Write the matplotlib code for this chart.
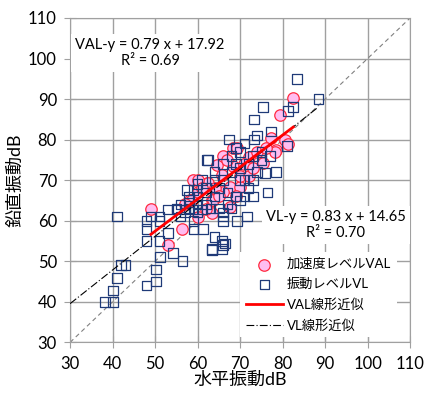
import matplotlib
matplotlib.use("Agg")
import matplotlib.pyplot as plt
import numpy as np

plt.rcParams['font.family'] = ['Lato', 'Noto Sans CJK JP', 'DejaVu Sans']

# 振動レベル VL (squares)
vl_x = [38.2, 40.1, 40.1, 41.1, 42.0, 43.0, 41.0, 48.0, 50.2, 50.2, 51.2, 48.0, 48.0, 48.0,
        49.0, 51.0, 51.0, 51.0, 53.0, 54.2, 56.4, 53.0, 55.0, 57.0, 59.0, 61.0, 57.0, 59.0,
        59.0, 61.3, 57.5, 59.0, 58.0, 60.0, 61.0, 62.5, 63.4, 64.0, 66.0, 66.0, 66.0, 66.0,
        69.3, 71.6, 63.4, 65.8, 65.8, 66.5, 83.4, 88.4, 82.5, 81.3, 75.4, 73.3, 77.3, 73.3,
        81.0, 62.2, 67.4, 75.9, 78.5, 76.4, 74.0, 70.0, 68.0, 69.0, 66.0, 64.0, 68.0, 70.0,
        72.0, 71.0, 73.0, 65.0, 67.0, 69.0, 71.0, 60.0, 62.0, 64.0, 55.0, 56.0, 58.0, 60.0,
        63.0, 65.0, 67.0, 68.0, 70.0, 72.0, 74.0, 75.0, 77.0, 70.0, 66.0, 64.0, 62.0, 73.0,
        71.0, 69.0, 73.0, 75.0, 60.0, 62.0, 56.0, 58.0]
vl_y = [40.0, 40.0, 42.8, 45.8, 49.0, 49.0, 61.0, 44.0, 45.0, 48.0, 51.0, 55.0, 58.0, 60.0,
        61.0, 61.0, 60.0, 55.0, 57.0, 52.0, 50.0, 62.8, 62.8, 62.8, 62.8, 62.8, 62.0, 60.0,
        58.0, 58.0, 67.5, 67.5, 66.0, 69.0, 70.0, 75.0, 53.0, 56.0, 54.0, 60.0, 62.0, 61.0,
        60.0, 61.0, 52.7, 55.0, 53.0, 54.4, 95.0, 90.0, 88.0, 87.0, 88.0, 85.0, 82.0, 80.0,
        78.4, 75.0, 80.0, 71.7, 72.0, 67.0, 81.0, 77.0, 76.0, 78.0, 74.0, 72.0, 72.0, 73.0,
        74.0, 70.0, 70.0, 68.0, 67.0, 66.0, 66.0, 64.0, 64.0, 66.0, 63.0, 64.0, 63.0, 62.0,
        63.0, 63.0, 64.0, 63.0, 65.0, 68.0, 72.0, 75.0, 76.0, 70.0, 70.0, 70.0, 68.0, 76.0,
        79.0, 74.0, 66.0, 77.0, 66.0, 67.0, 61.0, 64.5]

# 加速度レベル VAL (circles)
val_x = [49.0, 56.4, 53.0, 59.0, 58.2, 63.4, 63.4, 64.6, 62.2, 82.5, 79.4, 77.3, 80.6, 78.5,
         68.4, 69.3, 72.1, 75.4, 68.4, 65.8, 62.5, 67.6, 70.0, 63.6, 67.6, 81.3, 78.2, 58.7,
         60.0, 66.0, 70.0, 72.0, 74.0, 76.0, 71.0, 64.0, 60.0, 66.0, 67.0, 69.0, 62.0, 60.0,
         65.0, 73.0, 61.0, 57.0]
val_y = [63.0, 58.0, 54.0, 70.0, 65.0, 65.0, 62.0, 73.7, 69.3, 90.2, 86.0, 80.4, 80.0, 77.4,
         78.0, 77.9, 75.7, 74.2, 73.5, 71.2, 69.3, 68.3, 68.3, 65.0, 63.3, 79.0, 77.0, 65.0,
         67.0, 67.0, 71.0, 71.0, 77.0, 78.0, 74.0, 68.0, 70.0, 76.0, 75.0, 66.0, 63.0, 61.0,
         66.0, 73.0, 68.0, 64.0]

# regression coefficients (from chart labels)
val_fit = (0.79, 17.92)
val_r2 = 0.69
vl_fit = (0.83, 14.65)
vl_r2 = 0.70

ticks = [30, 40, 50, 60, 70, 80, 90, 100, 110]

fig = plt.figure(figsize=(4.25, 3.99), dpi=100)
ax = fig.add_axes([0.165, 0.142, 0.800, 0.813])

ax.set_xlim(30, 110)
ax.set_ylim(30, 110)
ax.set_xticks(ticks)
ax.set_yticks(ticks)
ax.grid(True, color='#a0a0a0', linewidth=1.0, zorder=0)
ax.set_axisbelow(True)
for s in ax.spines.values():
    s.set_color('#a0a0a0')
ax.tick_params(direction='inout', length=9, color='#a0a0a0', labelsize=12, pad=5)

# y = x reference line
ax.plot([30, 110], [30, 110], color='#808080', linestyle=(0, (4, 3)), linewidth=0.8, zorder=2)

ax.scatter(val_x, val_y, s=68, marker='o', facecolor='#ffbdf0', edgecolor='#ff2a40',
           linewidth=0.9, zorder=3, label='加速度レベルVAL')
ax.scatter(vl_x, vl_y, s=48, marker='s', facecolor='none', edgecolor='#1f3a78',
           linewidth=0.9, zorder=4, label='振動レベルVL')

xv = np.array([min(val_x), max(val_x)])
ax.plot(xv, val_fit[0] * xv + val_fit[1], color='#ff0000', linewidth=2.0, zorder=6,
        label='VAL線形近似')
xl = np.array([30, max(vl_x)])
ax.plot(xl, vl_fit[0] * xl + vl_fit[1], color='black', linewidth=0.8,
        linestyle=(0, (7, 2, 1, 2)), zorder=5, label='VL線形近似')

bbox = dict(facecolor='white', edgecolor='none', pad=3)
ax.text(48.8, 101.4, f'VAL-y = {val_fit[0]:.2f} x + {val_fit[1]:.2f}\nR² = {val_r2:.2f}',
        ha='center', va='center', fontsize=10.5, linespacing=1.15, bbox=bbox, zorder=7)
ax.text(92.5, 59.0, f'VL-y = {vl_fit[0]:.2f} x + {vl_fit[1]:.2f}\nR² = {vl_r2:.2f}',
        ha='center', va='center', fontsize=10.5, linespacing=1.15, bbox=bbox, zorder=7)

leg = ax.legend(loc='lower left', bbox_to_anchor=(0.48, -0.005), fontsize=9.5,
                frameon=True, facecolor='white', edgecolor='none', framealpha=1,
                handlelength=2.8, handletextpad=0.3, labelspacing=0.6, borderpad=0.45)
leg.get_frame().set_boxstyle('square', pad=0)
leg.set_zorder(8)

ax.set_xlabel('水平振動dB', fontsize=13, labelpad=0)
ax.set_ylabel('鉛直振動dB', fontsize=13, labelpad=3)

fig.savefig('out.png', dpi=100)
